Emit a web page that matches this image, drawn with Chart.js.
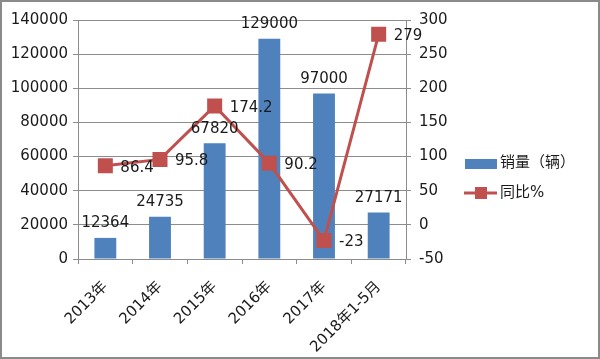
<!DOCTYPE html>
<html>
<head>
<meta charset="utf-8">
<script src="https://cdn.jsdelivr.net/npm/chart.js@4/dist/chart.umd.min.js"></script>
<style>
  body { margin: 0; background: #fff; }
  #wrap { width: 600px; height: 359px; }
</style>
</head>
<body>
<div id="wrap"><canvas id="salesChart" width="600" height="359"></canvas></div>
<script>
const categories = ["2013年", "2014年", "2015年", "2016年", "2017年", "2018年1-5月"];
const salesValues = [12364, 24735, 67820, 129000, 97000, 27171];
const yoyValues = [86.4, 95.8, 174.2, 90.2, -23, 279];
const salesLabel = "销量（辆）";
const yoyLabel = "同比%";

const FONT = '"DejaVu Sans", "Noto Sans CJK SC", sans-serif';
const textColor = "#1a1a1a";
const gridColor = "#8c8c8c";
const barColor = "#4f81bd";
const lineColor = "#c0504d";

// value labels, frame and legend drawn by hand
const extrasPlugin = {
  id: "extras",
  afterDatasetsDraw(chart) {
    const ctx = chart.ctx;
    ctx.save();
    ctx.font = "15px " + FONT;
    ctx.fillStyle = textColor;

    chart.getDatasetMeta(0).data.forEach((bar, i) => {
      ctx.textAlign = "center";
      ctx.textBaseline = "bottom";
      ctx.fillText(String(salesValues[i]), bar.x, bar.y - 7);
    });
    chart.getDatasetMeta(1).data.forEach((pt, i) => {
      ctx.textAlign = "left";
      ctx.textBaseline = "middle";
      ctx.fillText(String(yoyValues[i]), pt.x + 15, pt.y + 2);
    });

    // legend
    ctx.fillStyle = barColor;
    ctx.fillRect(465, 159, 32, 10);
    ctx.strokeStyle = lineColor;
    ctx.lineWidth = 3;
    ctx.beginPath();
    ctx.moveTo(464, 193);
    ctx.lineTo(497, 193);
    ctx.stroke();
    ctx.fillStyle = lineColor;
    ctx.fillRect(475, 187, 12, 12);
    ctx.fillStyle = textColor;
    ctx.textAlign = "left";
    ctx.textBaseline = "middle";
    ctx.fillText(salesLabel, 500, 163);
    ctx.fillText(yoyLabel, 500, 193);

    // outer frame
    ctx.strokeStyle = "#8a8a8a";
    ctx.lineWidth = 2;
    ctx.strokeRect(1, 1, 598, 357);
    ctx.restore();
  }
};

const ctx = document.getElementById("salesChart").getContext("2d");
const chart = new Chart(ctx, {
  data: {
    labels: categories,
    datasets: [
      {
        type: "bar",
        label: salesLabel,
        data: salesValues,
        backgroundColor: barColor,
        yAxisID: "y",
        categoryPercentage: 1,
        barPercentage: 0.4,
        order: 2,
      },
      {
        type: "line",
        label: yoyLabel,
        data: yoyValues,
        borderColor: lineColor,
        backgroundColor: lineColor,
        borderWidth: 3,
        pointStyle: "rect",
        pointRadius: 8.5,
        pointHoverRadius: 8.5,
        tension: 0,
        yAxisID: "y1",
        order: 1,
      },
    ],
  },
  options: {
    responsive: false,
    animation: false,
    layout: { padding: { left: 0, right: 0, top: 20, bottom: 0 } },
    plugins: {
      legend: { display: false },
      tooltip: { enabled: false },
    },
    scales: {
      x: {
        offset: true,
        grid: {
          offset: true,
          drawOnChartArea: false,
          drawTicks: true,
          tickLength: 5,
          color: gridColor,
        },
        border: { color: gridColor },
        ticks: {
          color: textColor,
          font: { family: FONT, size: 15 },
          maxRotation: 45,
          minRotation: 45,
          padding: 14,
        },
        afterFit(scale) { scale.height = 100; },
      },
      y: {
        position: "left",
        min: 0,
        max: 140000,
        grid: { color: gridColor, tickLength: 5 },
        border: { color: gridColor },
        ticks: {
          stepSize: 20000,
          color: textColor,
          font: { family: FONT, size: 15 },
          padding: 5,
          callback: (v) => String(v),
        },
        afterFit(scale) { scale.width = 78; },
      },
      y1: {
        position: "right",
        min: -50,
        max: 300,
        grid: { drawOnChartArea: false, color: gridColor, tickLength: 5 },
        border: { color: gridColor },
        ticks: {
          stepSize: 50,
          color: textColor,
          font: { family: FONT, size: 15 },
          padding: 8,
          callback: (v) => String(v),
        },
        afterFit(scale) { scale.width = 194; },
      },
    },
  },
  plugins: [extrasPlugin],
});
</script>
</body>
</html>
